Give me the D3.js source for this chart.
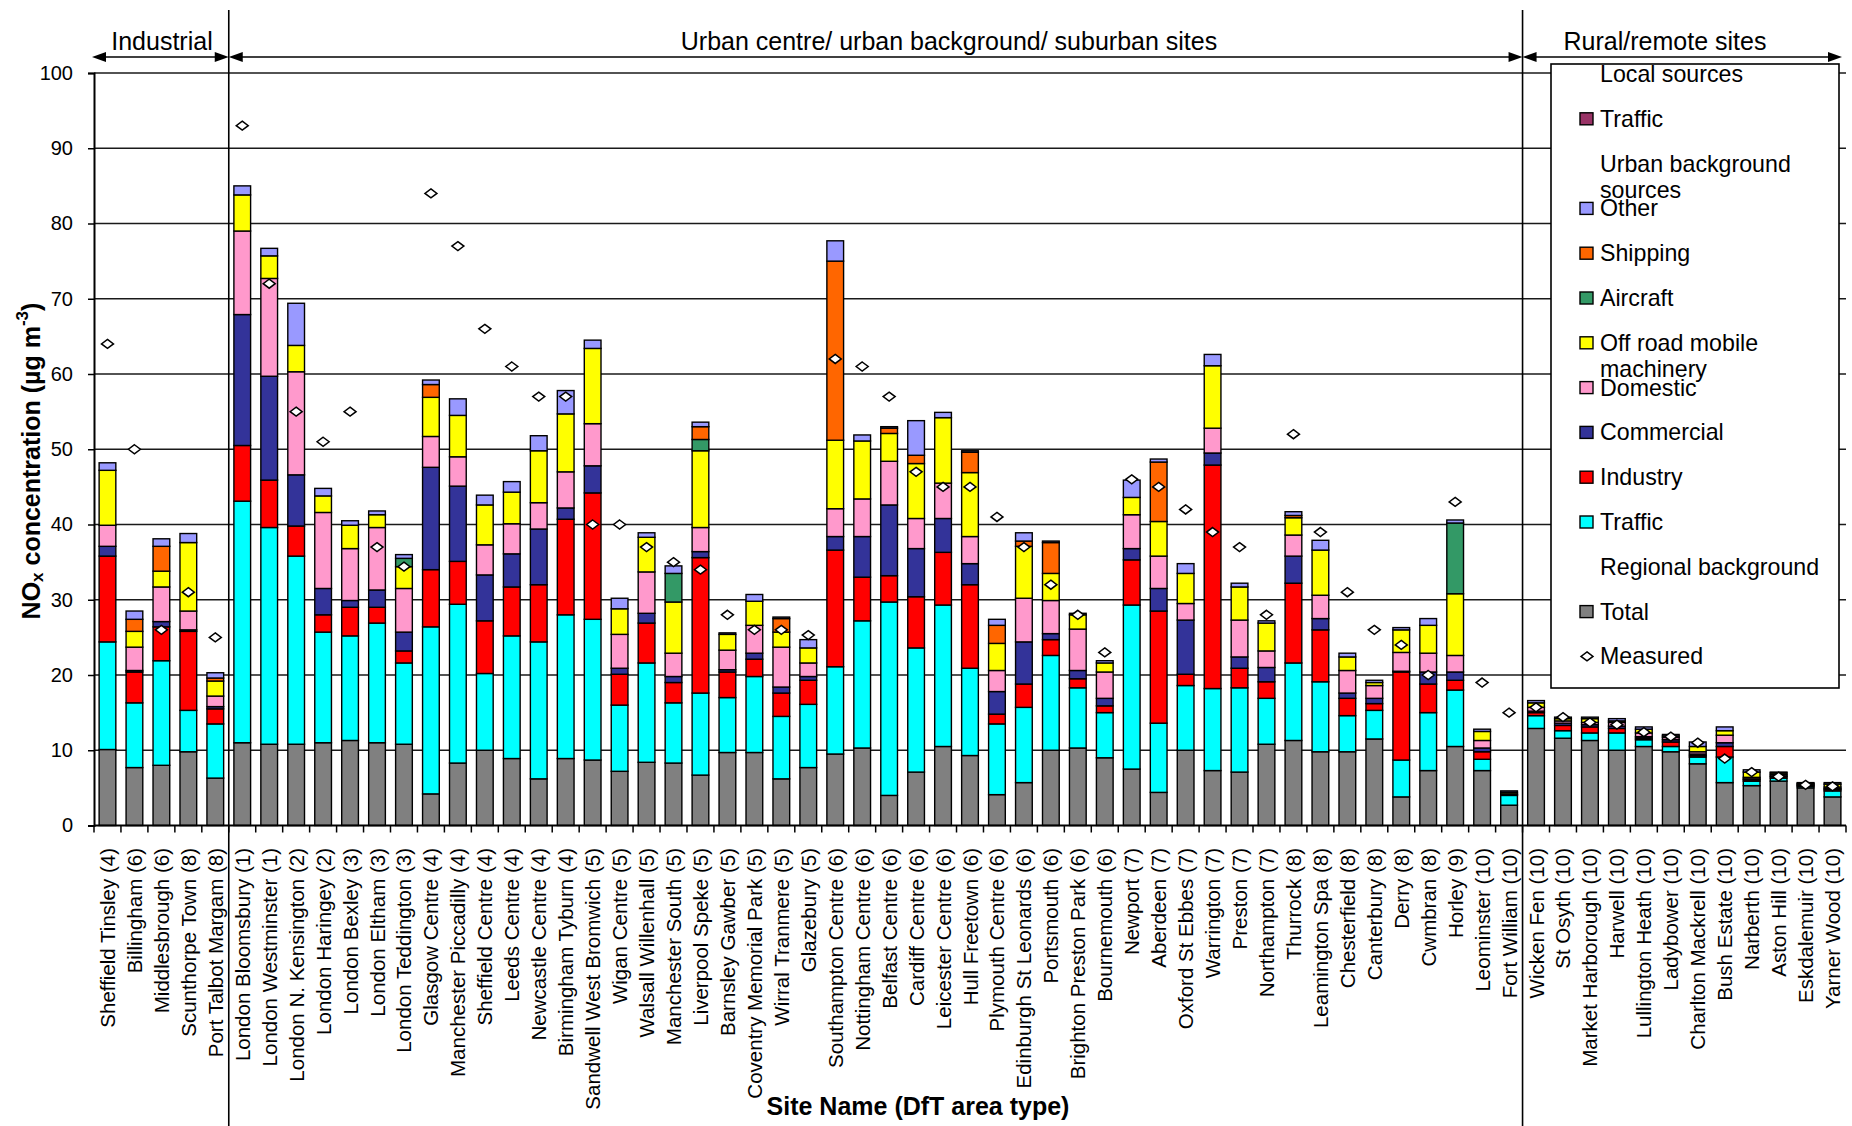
<!DOCTYPE html>
<html><head><meta charset="utf-8">
<script src="https://cdn.jsdelivr.net/npm/d3@7"></script>
<style>body{margin:0;background:#fff} text{font-family:"Liberation Sans", Arial, sans-serif}</style>
</head><body><svg id="c" width="1852" height="1126"></svg>
<script>
const sites = ["Sheffield Tinsley (4)","Billingham (6)","Middlesbrough (6)","Scunthorpe Town (8)","Port Talbot Margam (8)",
"London Bloomsbury (1)","London Westminster (1)","London N. Kensington (2)","London Haringey (2)","London Bexley (3)","London Eltham (3)","London Teddington (3)","Glasgow Centre (4)","Manchester Piccadilly (4)","Sheffield Centre (4)","Leeds Centre (4)","Newcastle Centre (4)","Birmingham Tyburn (4)","Sandwell West Bromwich (5)","Wigan Centre (5)","Walsall Willenhall (5)","Manchester South (5)","Liverpool Speke (5)","Barnsley Gawber (5)","Coventry Memorial Park (5)","Wirral Tranmere (5)","Glazebury (5)","Southampton Centre (6)","Nottingham Centre (6)","Belfast Centre (6)","Cardiff Centre (6)","Leicester Centre (6)","Hull Freetown (6)","Plymouth Centre (6)","Edinburgh St Leonards (6)","Portsmouth (6)","Brighton Preston Park (6)","Bournemouth (6)","Newport (7)","Aberdeen (7)","Oxford St Ebbes (7)","Warrington (7)","Preston (7)","Northampton (7)","Thurrock (8)","Leamington Spa (8)","Chesterfield (8)","Canterbury (8)","Derry (8)","Cwmbran (8)","Horley (9)","Leominster (10)","Fort William (10)",
"Wicken Fen (10)","St Osyth (10)","Market Harborough (10)","Harwell (10)","Lullington Heath (10)","Ladybower (10)","Charlton Mackrell (10)","Bush Estate (10)","Narberth (10)","Aston Hill (10)","Eskdalemuir (10)","Yarner Wood (10)"];

const groups = ["Industrial","Urban centre/ urban background/ suburban sites","Rural/remote sites"];
const groupStart = [0, 5, 53];

const regionalTotal = [10.1,7.7,8.0,9.8,6.3, 11.0,10.8,10.8,11.0,11.3,11.0,10.8,4.2,8.3,10.0,8.9,6.2,8.9,8.7,7.2,8.4,8.3,6.7,9.7,9.7,6.2,7.7,9.5,10.3,4.0,7.1,10.5,9.3,4.1,5.7,10.0,10.3,9.0,7.5,4.4,10.0,7.3,7.1,10.8,11.3,9.8,9.8,11.5,3.8,7.3,10.5,7.3,2.7, 12.9,11.6,11.3,10.0,10.5,9.8,8.2,5.7,5.3,5.9,5.0,3.8];
const ubTraffic = [14.3,8.6,13.9,5.5,7.2, 32.1,28.8,25.0,14.7,13.9,15.9,10.8,22.2,21.1,10.2,16.3,18.2,19.1,18.7,8.8,13.2,8.0,10.9,7.3,10.1,8.3,8.4,11.6,16.9,25.7,16.5,18.8,11.6,9.4,10.0,12.6,8.0,6.0,21.8,9.2,8.6,10.9,11.2,6.1,10.3,9.3,4.8,3.8,4.9,7.7,7.5,1.5,1.3, 1.7,1.0,1.0,2.3,0.9,0.7,0.9,3.4,0.6,0.4,0.2,0.8];
const industry = [11.4,4.1,4.5,10.5,2.0, 7.4,6.3,4.0,2.3,3.8,2.1,1.6,7.6,5.7,7.0,6.5,7.6,12.7,16.8,4.1,5.3,2.7,18.0,3.4,2.3,3.1,3.2,15.5,5.8,3.5,6.8,7.0,11.1,1.3,3.1,2.1,1.2,0.9,6.0,14.9,1.5,29.7,2.6,2.2,10.6,6.9,2.3,0.9,11.7,3.8,1.3,1.0,0.1, 0.4,0.7,0.8,0.6,0.2,0.6,0.2,1.4,0.2,0.2,0.1,0.2];
const commercial = [1.3,0.2,0.7,0.2,0.3, 17.4,13.8,6.8,3.5,0.9,2.3,2.5,13.6,10.0,6.1,4.4,7.4,1.5,3.6,0.8,1.3,0.8,0.8,0.3,0.8,0.8,0.5,1.8,5.4,9.4,6.4,4.5,2.8,3.0,5.6,0.8,1.1,1.0,1.5,3.0,7.2,1.6,1.5,1.9,3.6,1.5,0.7,0.7,0.1,1.6,1.1,0.5,0.0, 0.2,0.3,0.3,0.3,0.2,0.3,0.2,0.5,0.1,0.1,0.1,0.1];
const domestic = [2.8,3.1,4.6,2.5,1.4, 11.1,13.0,13.7,10.1,6.9,8.3,5.8,4.1,3.9,4.0,4.0,3.5,4.8,5.6,4.5,5.5,3.1,3.2,2.6,3.7,5.3,1.8,3.7,5.0,5.8,4.0,4.7,3.6,2.8,5.8,4.4,5.5,3.5,4.5,4.3,2.2,3.3,4.9,2.2,2.8,3.1,3.0,1.7,2.5,2.5,2.2,1.0,0.1, 0.5,0.3,0.3,0.5,0.5,0.3,0.3,1.0,0.2,0.2,0.1,0.2];
const offRoad = [7.3,2.1,2.1,9.1,2.0, 4.8,3.0,3.5,2.2,3.1,1.7,2.9,5.2,5.5,5.3,4.2,6.9,7.7,10.0,3.4,4.6,6.8,10.2,2.1,3.2,2.0,2.0,9.1,7.7,3.7,7.3,8.7,8.5,3.6,6.9,3.6,1.9,1.2,2.3,4.6,4.0,8.3,4.4,3.7,2.3,6.0,1.8,0.4,3.0,3.7,8.2,1.2,0.2, 0.6,0.3,0.5,0.2,0.5,0.2,0.7,0.6,0.7,0.2,0.1,0.4];
const aircraft = [0,0,0,0,0, 0,0,0,0,0,0,1.1,0,0,0,0,0,0,0,0,0,3.8,1.5,0,0,0,0,0,0,0,0,0,0,0,0,0,0,0,0,0,0,0,0,0,0,0,0,0,0,0,9.4,0,0, 0,0,0,0,0,0,0,0,0,0,0,0];
const shipping = [0,1.6,3.3,0,0.4, 0,0,0,0,0,0,0,1.7,0,0,0,0,0,0,0,0,0,1.7,0,0,1.8,0,23.8,0,0.7,1.1,0,2.7,2.4,0.7,4.1,0,0,0,7.9,0,0,0,0,0.3,0,0,0,0,0,0,0,0, 0,0,0,0,0,0,0,0,0,0,0,0];
const other = [1.0,1.1,1.0,1.2,0.7, 1.2,1.0,5.6,1.0,0.6,0.5,0.5,0.6,2.2,1.3,1.4,2.0,3.1,1.1,1.4,0.6,1.0,0.6,0.2,0.9,0.2,1.1,2.7,0.8,0.2,4.6,0.7,0.2,0.8,1.1,0.2,0.2,0.3,2.3,0.4,1.3,1.5,0.5,0.3,0.5,1.3,0.5,0.3,0.3,0.9,0.4,0.3,0.2, 0.3,0.2,0.2,0.3,0.3,0.2,0.6,0.5,0.3,0.1,0.1,0.2];
const localTraffic = sites.map(() => 0);
const measured = [64,50,26,31,25, 93,72,55,51,55,37,34.4,84,77,66,61,57,57,40,40,37,35,34,28,26,26,25.3,62,61,57,47,45,45,41,37,32,28,23,46,45,42,39,37,28,52,39,31,26,24,20,43,19,15, 15.7,14.4,13.7,13.4,12.4,11.8,11.0,8.9,7.1,6.5,5.4,5.2];

const yTicks = [0,10,20,30,40,50,60,70,80,90,100];

const seriesKeys = ["regionalTotal","ubTraffic","industry","commercial","domestic","offRoad","aircraft","shipping","other","localTraffic"];
const seriesVals = {regionalTotal, ubTraffic, industry, commercial, domestic, offRoad, aircraft, shipping, other, localTraffic};
const colors = {regionalTotal:"#808080", ubTraffic:"#00FFFF", industry:"#FF0000", commercial:"#333399", domestic:"#FF99CC", offRoad:"#FFFF00", aircraft:"#339966", shipping:"#FF6600", other:"#9999FF", localTraffic:"#993366"};

const legendRows = [
  {head:["Local sources"]},
  {key:"localTraffic", text:["Traffic"]},
  {head:["Urban background","sources"]},
  {key:"other", text:["Other"]},
  {key:"shipping", text:["Shipping"]},
  {key:"aircraft", text:["Aircraft"]},
  {key:"offRoad", text:["Off road mobile","machinery"]},
  {key:"domestic", text:["Domestic"]},
  {key:"commercial", text:["Commercial"]},
  {key:"industry", text:["Industry"]},
  {key:"ubTraffic", text:["Traffic"]},
  {head:["Regional background"]},
  {key:"regionalTotal", text:["Total"]},
  {measured:true, text:["Measured"]}
];

const svg = d3.select("#c");
const L = 94, R = 1846, T = 73, B = 825.5;
const x = d3.scaleBand().domain(sites).range([L, R]).paddingInner(0.38).paddingOuter(0.19);
const y = d3.scaleLinear().domain([0, 100]).range([B, T]);
const step = x.step(), bw = x.bandwidth();
const edge = i => L + i * step;

const rows = sites.map((s, i) => { const r = {site: s}; seriesKeys.forEach(k => r[k] = seriesVals[k][i]); return r; });
const stacked = d3.stack().keys(seriesKeys)(rows);

// gridlines
svg.append("g").selectAll("line").data(yTicks.filter(v => v > 0)).join("line")
  .attr("x1", L).attr("x2", R).attr("y1", d => y(d)).attr("y2", d => y(d))
  .attr("stroke", "#1a1a1a").attr("stroke-width", 1.5);

// y axis
const ya = svg.append("g").attr("transform", `translate(${L},0)`)
  .call(d3.axisLeft(y).tickValues(yTicks).tickSize(6).tickPadding(15));
ya.select(".domain").attr("stroke", "#000").attr("stroke-width", 2);
ya.selectAll(".tick line").attr("stroke", "#000").attr("stroke-width", 1.5);
ya.selectAll(".tick text").attr("font-size", 20).attr("font-family", "Liberation Sans, Arial, sans-serif").attr("fill", "#000");

// bars
svg.append("g").selectAll("g").data(stacked).join("g")
  .attr("fill", d => colors[d.key])
  .selectAll("rect").data(d => d.filter(p => p[1] - p[0] > 0)).join("rect")
  .attr("x", d => x(d.data.site)).attr("width", bw)
  .attr("y", d => y(d[1])).attr("height", d => y(d[0]) - y(d[1]))
  .attr("stroke", "#000").attr("stroke-width", 1.4);

// x axis line and ticks
svg.append("line").attr("x1", L).attr("x2", R).attr("y1", B).attr("y2", B).attr("stroke", "#000").attr("stroke-width", 2);
svg.append("g").selectAll("line").data(d3.range(sites.length + 1)).join("line")
  .attr("x1", d => edge(d)).attr("x2", d => edge(d)).attr("y1", B).attr("y2", B + 7)
  .attr("stroke", "#000").attr("stroke-width", 1.5);

// x labels
svg.append("g").selectAll("text").data(sites).join("text")
  .attr("transform", d => `translate(${x(d) + bw / 2},848) rotate(-90)`)
  .attr("text-anchor", "end").attr("dominant-baseline", "central")
  .attr("font-size", 20.5).text(d => d);

// measured diamonds
svg.append("g").selectAll("path").data(measured).join("path")
  .attr("transform", (d, i) => `translate(${x(sites[i]) + bw / 2},${y(d)})`)
  .attr("d", "M0,-4.5L6,0L0,4.5L-6,0Z")
  .attr("fill", "#fff").attr("stroke", "#000").attr("stroke-width", 1.5);

// group separators and arrows
const b1 = edge(groupStart[1]), b2 = edge(groupStart[2]);
[b1, b2].forEach(b => svg.append("line").attr("x1", b).attr("x2", b).attr("y1", 10).attr("y2", 1126).attr("stroke", "#000").attr("stroke-width", 1.6));
const ay = 57;
function arrow(x1, x2) {
  svg.append("line").attr("x1", x1 + 4).attr("x2", x2 - 4).attr("y1", ay).attr("y2", ay).attr("stroke", "#000").attr("stroke-width", 1.6);
  svg.append("path").attr("d", `M${x1},${ay}L${x1 + 14},${ay - 5}L${x1 + 14},${ay + 5}Z`).attr("fill", "#000");
  svg.append("path").attr("d", `M${x2},${ay}L${x2 - 14},${ay - 5}L${x2 - 14},${ay + 5}Z`).attr("fill", "#000");
}
arrow(L - 2, b1); arrow(b1, b2); arrow(b2, R - 4);
const headX = [162, 949, 1665];
groups.forEach((g, i) => svg.append("text").attr("x", headX[i]).attr("y", 41).attr("text-anchor", "middle")
  .attr("dominant-baseline", "central").attr("font-size", 25).text(g));

// legend
const lg = svg.append("g");
lg.append("rect").attr("x", 1551).attr("y", 64).attr("width", 288).attr("height", 624).attr("fill", "#fff").attr("stroke", "#000").attr("stroke-width", 1.6);
legendRows.forEach((r, i) => {
  const cy = 74 + i * 44.8;
  const lines = r.head || r.text;
  lines.forEach((t, j) => lg.append("text").attr("x", 1600).attr("y", cy + j * 26).attr("dominant-baseline", "central").attr("font-size", 23.2).text(t));
  if (r.key) lg.append("rect").attr("x", 1580).attr("y", cy - 6).attr("width", 13).attr("height", 12).attr("fill", colors[r.key]).attr("stroke", "#000").attr("stroke-width", 1.4);
  if (r.measured) lg.append("path").attr("transform", `translate(1587,${cy})`).attr("d", "M0,-4.5L6,0L0,4.5L-6,0Z").attr("fill", "#fff").attr("stroke", "#000").attr("stroke-width", 1.5);
});

// axis titles
const yt = svg.append("text").attr("transform", "translate(31,461) rotate(-90)").attr("text-anchor", "middle")
  .attr("dominant-baseline", "central").attr("font-size", 25).attr("font-weight", "bold");
yt.append("tspan").text("NO");
yt.append("tspan").attr("font-size", 17).attr("dy", 6).text("x");
yt.append("tspan").attr("dy", -6).text(" concentration  (µg m");
yt.append("tspan").attr("font-size", 17).attr("dy", -9).text("-3");
yt.append("tspan").attr("dy", 9).text(")");
svg.append("text").attr("x", 918).attr("y", 1106).attr("text-anchor", "middle").attr("dominant-baseline", "central")
  .attr("font-size", 25).attr("font-weight", "bold").text("Site Name (DfT area type)");
</script></body></html>
